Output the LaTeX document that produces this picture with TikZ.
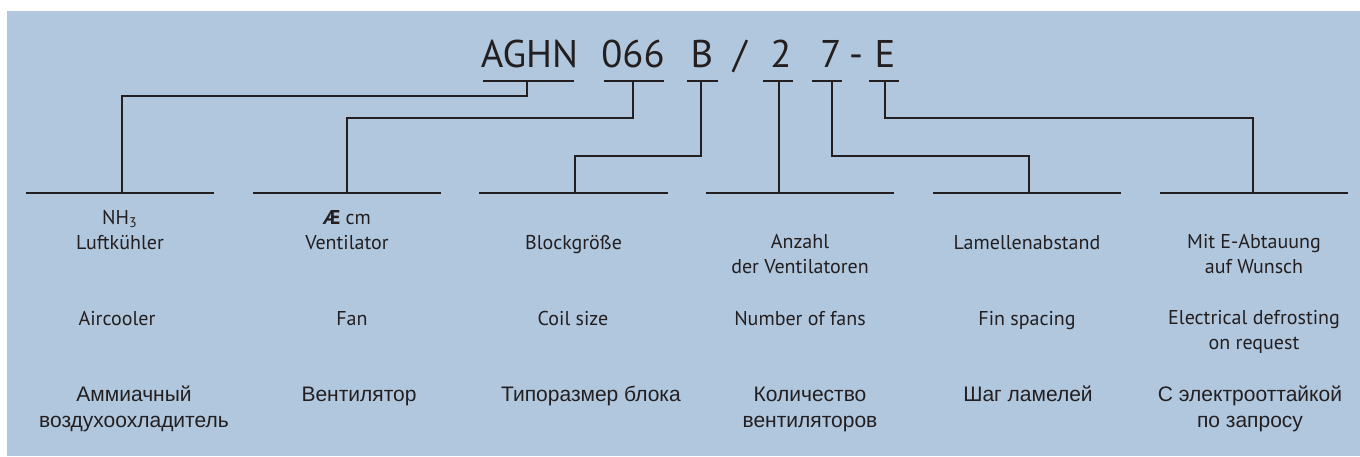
\documentclass[tikz,border=0pt]{standalone}
\usepackage{fontspec}
\setmainfont{PT Sans}
\newfontfamily\rufont{Liberation Sans}
\definecolor{bgblue}{RGB}{176,199,222}
\definecolor{ink}{RGB}{35,31,32}
\tikzset{
    code/.style={font=\fontsize{19.3}{23}\selectfont, text=ink, inner sep=0pt, anchor=base},
    de/.style={font=\fontsize{10}{12.25}\selectfont, text=ink, align=center, inner sep=0pt, anchor=base},
    ru/.style={font=\rufont\fontsize{10.5}{13}\selectfont, text=ink, align=center, inner sep=0pt, anchor=base},
    wire/.style={draw=ink, line width=1.1pt}
}

\begin{document}
\begin{tikzpicture}[x=0.5pt, y=-0.5pt]
    \useasboundingbox (0,0) rectangle (1360,456);
    \fill[bgblue] (7,11) rectangle (1360,456);

    % type code
    \node[code] (aghn) at (529.5,67) {AGHN};
    \node[code] (size) at (633,67) {066};
    \node[code] (block) at (702,67) {B};
    \node[code] (slash) at (740,67) {/};
    \node[code] (fans) at (781,67) {2};
    \node[code] (fin) at (831,67) {7};
    \node[code] (dash) at (856,67) {-};
    \node[code] (defr) at (885,67) {E};

    % underlines below the code
    \draw[wire] (483,81) -- (574,81);
    \draw[wire] (604,81) -- (664,81);
    \draw[wire] (687,81) -- (718,81);
    \draw[wire] (763,81) -- (793,81);
    \draw[wire] (812,81) -- (842,81);
    \draw[wire] (869,81) -- (899,81);

    \coordinate (u1) at (527,81);
    \coordinate (u2) at (633,81);
    \coordinate (u3) at (701,81);
    \coordinate (u4) at (779,81);
    \coordinate (u5) at (832,81);
    \coordinate (u6) at (885,81);

    % bars above the columns
    \draw[wire] (26,193) -- (214,193);
    \draw[wire] (253,193) -- (441,193);
    \draw[wire] (479,193) -- (668,193);
    \draw[wire] (706,193) -- (894,193);
    \draw[wire] (933,193) -- (1121,193);
    \draw[wire] (1160,193) -- (1348,193);

    \coordinate (b1) at (122,193);
    \coordinate (b2) at (347,193);
    \coordinate (b3) at (575,193);
    \coordinate (b4) at (779,193);
    \coordinate (b5) at (1029,193);
    \coordinate (b6) at (1253,193);

    \draw[wire] (u1) -- ++(0,15) -| (b1);
    \draw[wire] (u2) -- ++(0,37) -| (b2);
    \draw[wire] (u3) -- ++(0,75) -| (b3);
    \draw[wire] (u4) -- (b4);
    \draw[wire] (u5) -- ++(0,75) -| (b5);
    \draw[wire] (u6) -- ++(0,37) -| (b6);

    % German
    \node[de] (de1) at (120,249) {NH\textsubscript{3}\\Luftkühler};
    \node[de] (de2) at (347,249) {\textbf{Æ} cm\\Ventilator};
    \node[de] (de3) at (573.5,249) {Blockgröße};
    \node[de] (de4) at (800,273) {Anzahl\\der Ventilatoren};
    \node[de] (de5) at (1027,249) {Lamellenabstand};
    \node[de] (de6) at (1254,273) {Mit E-Abtauung\\auf Wunsch};

    % English
    \node[de] (en1) at (117,325) {Aircooler};
    \node[de] (en2) at (352,325) {Fan};
    \node[de] (en3) at (573,325) {Coil size};
    \node[de] (en4) at (800,325) {Number of fans};
    \node[de] (en5) at (1027,325) {Fin spacing};
    \node[de] (en6) at (1254,349) {Electrical defrosting\\on request};

    % Russian
    \node[ru] (ru1) at (134,427.5) {Аммиачный\\воздухоохладитель};
    \node[ru] (ru2) at (359,401.5) {Вентилятор};
    \node[ru] (ru3) at (591,401.5) {Типоразмер блока};
    \node[ru] (ru4) at (810,427.5) {Количество\\вентиляторов};
    \node[ru] (ru5) at (1028,401.5) {Шаг ламелей};
    \node[ru] (ru6) at (1250,427.5) {С электрооттайкой\\по запросу};
\end{tikzpicture}
\end{document}
